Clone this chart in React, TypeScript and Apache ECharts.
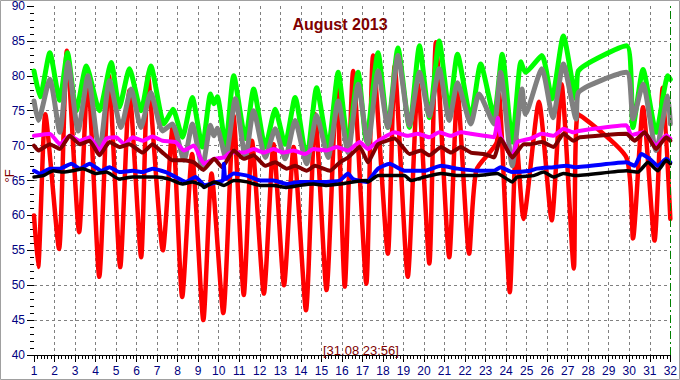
import React, { useEffect, useRef } from "react";
import * as echarts from "echarts";

// [day of month (fractional), °F]
const outdoor: number[][] = [
  [1.0, 60], [1.2, 52.6], [1.55, 74.5], [2.22, 55.2], [2.6, 83.6], [3.2, 57.6], [3.62, 80], [4.18, 51.2],
  [4.65, 80], [5.2, 52.6], [5.65, 77.9], [6.22, 54], [6.55, 80], [7.28, 55], [7.75, 72.6], [8.22, 48.3],
  [8.7, 68.8], [9.25, 45], [9.65, 66], [10.22, 46], [10.72, 74.3], [11.22, 48.6], [11.62, 70.7], [12.2, 48.8],
  [12.67, 70.2], [13.18, 50], [13.65, 69.8], [14.25, 46.4], [14.7, 74.5], [15.25, 49.3], [15.74, 78.8],
  [16.14, 49.8], [16.55, 80.7], [17.19, 50.2], [17.52, 82.9], [18.24, 54.5], [18.57, 81.4], [19.21, 51.2],
  [19.7, 78.8], [20.26, 53.1], [20.58, 84.8], [21.23, 54], [21.63, 77.9], [22.2, 54.5], [22.55, 66.5],
  [23.55, 70.5], [23.65, 77.4], [24.18, 49], [24.5, 71], [24.85, 59.5], [25.6, 76.3], [26.22, 59.3],
  [26.7, 78.8], [27.3, 52.4], [27.5, 74.5], [29.86, 68.3], [30.18, 56.7], [30.67, 75.5], [31.23, 56.4],
  [31.63, 78.3], [32.0, 59.5],
];
const greenSensor: number[][] = [
  [1.0, 80.7], [1.3, 77], [1.77, 83.3], [2.25, 76.5], [2.63, 83.3], [3.06, 75], [3.55, 81.4], [4.19, 75],
  [4.76, 81.9], [5.16, 75.5], [5.65, 81], [6.21, 75], [6.69, 81.4], [7.34, 73.1], [7.77, 75.2], [8.23, 71.2],
  [8.71, 76.9], [9.2, 69.8], [9.6, 77.4], [9.77, 76], [9.93, 77], [10.33, 70], [10.73, 80], [11.3, 71],
  [11.7, 78.1], [12.27, 69.8], [12.75, 75.2], [13.23, 70.2], [13.72, 76.9], [14.28, 68.1], [14.77, 78.3],
  [15.33, 69.8], [15.82, 80.5], [16.3, 70.2], [16.79, 80.5], [17.19, 70.7], [17.76, 83.3], [18.24, 72.6],
  [18.73, 84], [19.29, 72.6], [19.78, 84.3], [20.26, 74], [20.74, 85], [21.23, 75], [21.63, 83.1],
  [22.28, 74], [22.76, 81.7], [23.41, 74.3], [23.81, 83.1], [24.3, 70.5], [24.72, 82], [24.94, 80.5],
  [25.74, 82.9], [26.23, 76.7], [26.79, 85.7], [27.41, 76.7], [27.52, 80.7], [29.86, 84.3], [30.18, 72.6],
  [30.67, 80.9], [31.31, 71.9], [31.88, 80], [32.0, 79.5],
];
const graySensor: number[][] = [
  [1.0, 76.4], [1.21, 73.6], [1.77, 79.5], [2.26, 71.9], [2.66, 81.9], [3.15, 72.1], [3.63, 80], [4.19, 69],
  [4.68, 79.3], [5.24, 72.6], [5.73, 78.1], [6.21, 72.6], [6.69, 77.6], [7.26, 72.1], [7.74, 73.1],
  [8.31, 67.9], [8.71, 73.1], [9.2, 66.8], [9.6, 72.9], [9.77, 71.4], [9.93, 72.5], [10.33, 68.3],
  [10.81, 76.7], [11.3, 68.3], [11.7, 75], [12.27, 68.3], [12.75, 72.4], [13.23, 68.1], [13.72, 73.6],
  [14.28, 67.4], [14.77, 74.3], [15.33, 68.3], [15.82, 76.4], [16.3, 69], [16.79, 78.8], [17.27, 70.2],
  [17.76, 80.7], [18.24, 72.6], [18.73, 82.9], [19.29, 72.9], [19.78, 80.5], [20.26, 74.3], [20.74, 81],
  [21.23, 73.6], [21.63, 79], [22.28, 73.1], [22.68, 77.4], [23.41, 73.1], [23.73, 80.5], [24.3, 67.1],
  [24.78, 78.1], [24.94, 74.5], [25.74, 81], [26.28, 74], [26.79, 81.7], [27.41, 73.8], [27.52, 77.6],
  [29.86, 80.5], [30.18, 73.8], [30.67, 78.8], [31.31, 69.3], [31.88, 77.1], [32.0, 73.1],
];
const magentaSensor: number[][] = [
  [1.0, 71.4], [1.77, 71.7], [2.26, 70.2], [2.74, 71.4], [3.23, 70.7], [3.71, 71.2], [4.19, 69.3], [4.52, 71],
  [5.0, 71.2], [5.4, 70.2], [5.81, 71.2], [6.29, 70.7], [6.77, 71.3], [7.26, 70.7], [7.9, 70.5], [8.31, 69.3],
  [8.79, 70], [9.28, 67.4], [9.77, 68.1], [10.25, 68.3], [10.57, 69], [11.22, 69], [11.7, 69.5], [12.19, 69],
  [12.67, 69.5], [13.15, 69], [13.64, 69.3], [14.2, 68.8], [14.61, 69.5], [15.25, 69.3], [15.74, 69.8],
  [16.3, 69.3], [16.87, 70.5], [17.27, 69.5], [17.68, 70.5], [18.57, 71.9], [19.21, 71.4], [19.7, 71.7],
  [20.26, 71.2], [20.74, 71.9], [21.31, 71.4], [21.79, 71.9], [22.28, 71.7], [22.92, 71.4], [23.41, 71.2],
  [23.6, 74], [23.73, 71.4], [24.3, 68.3], [24.54, 70.5], [25.18, 71], [25.74, 71.7], [26.31, 71.4],
  [26.79, 72.4], [27.28, 71.9], [27.52, 72.1], [29.86, 72.9], [30.1, 71.5], [30.67, 71.9], [31.31, 70],
  [31.8, 71.5], [32.0, 71],
];
const maroonSensor: number[][] = [
  [1.0, 70], [1.21, 69.3], [1.77, 70.2], [2.26, 69.5], [2.74, 71.4], [3.23, 70.2], [3.71, 70.7], [4.19, 68.6],
  [4.68, 70.5], [5.16, 69.8], [5.65, 70.2], [6.29, 69], [6.77, 70.2], [7.26, 69], [7.74, 67.9], [8.31, 67.9],
  [8.79, 67.6], [9.25, 66.5], [9.77, 68.1], [10.17, 66.9], [10.73, 69.3], [11.22, 68.1], [11.7, 68.6],
  [12.27, 67.1], [12.75, 67.6], [13.31, 66.7], [13.72, 67.1], [14.28, 66.4], [14.69, 67.1], [15.42, 66.4],
  [15.9, 67.6], [16.3, 68.3], [16.87, 69.8], [17.27, 67.6], [17.76, 70.2], [18.57, 71], [19.29, 68.8],
  [19.86, 69.3], [20.26, 68.6], [20.83, 69.8], [21.31, 69], [21.79, 69.8], [22.28, 69], [22.92, 68.8],
  [23.41, 68.3], [23.73, 71], [24.3, 68.3], [24.86, 70.2], [25.18, 70.2], [25.74, 70.5], [26.31, 69.8],
  [26.79, 71.7], [27.28, 70.7], [27.6, 71.2], [29.86, 71.7], [30.26, 70.7], [30.75, 71.9], [31.31, 69.5],
  [31.8, 71.2], [32.0, 70.7],
];
const blueSensor: number[][] = [
  [1.0, 66.4], [1.29, 66], [1.77, 66.7], [2.26, 66.7], [2.82, 67.4], [3.23, 66.7], [3.71, 67.4], [4.27, 66.4],
  [4.68, 66.9], [5.16, 66.2], [5.81, 66.4], [6.29, 66.2], [6.77, 66.7], [7.42, 66.2], [7.9, 65.5], [8.39, 64.8],
  [8.87, 65.5], [9.19, 64.6], [9.28, 64.3], [9.93, 64.8], [10.2, 65], [10.25, 67.4], [10.33, 65.2],
  [10.73, 66], [11.38, 65.7], [12.02, 65], [12.67, 65], [13.31, 64.5], [13.96, 64.8], [14.61, 64.8],
  [15.25, 64.8], [15.9, 65], [16.3, 66], [16.54, 65.2], [17.19, 64.8], [17.76, 66.7], [18.32, 67.4],
  [19.05, 66.4], [20.02, 66.4], [20.83, 67.1], [21.63, 66.7], [22.6, 66.4], [23.41, 66.4], [23.73, 66.9],
  [24.3, 66.2], [25.18, 66.4], [25.5, 66.7], [26.31, 66.9], [26.95, 67.1], [27.36, 66.9], [29.86, 67.6],
  [30.26, 67.1], [30.58, 68.8], [30.99, 68.1], [31.39, 67.1], [31.8, 68.1], [32.0, 67.6],
];
const blackSensor: number[][] = [
  [1.0, 65.5], [1.45, 65.7], [1.94, 66.4], [2.42, 66.2], [2.9, 66.4], [3.39, 66.7], [4.03, 66], [4.52, 66.2],
  [5.16, 65.2], [5.81, 65.5], [6.45, 65.5], [6.94, 65.5], [7.58, 65.2], [8.23, 64.5], [8.71, 64.8],
  [9.19, 64.3], [9.28, 64], [9.77, 64.8], [10.25, 64.3], [10.73, 65], [11.38, 64.8], [12.02, 64.3],
  [12.67, 64.3], [13.31, 64], [13.96, 64.3], [14.61, 64.5], [15.25, 64.3], [15.9, 64.5], [16.54, 64.8],
  [17.19, 65], [17.27, 64.8], [17.76, 65.7], [18.4, 65.7], [19.05, 65.7], [19.37, 65], [20.02, 65.5],
  [20.83, 66], [21.63, 65.7], [22.6, 65.7], [23.57, 66], [24.3, 64.8], [24.54, 65.5], [25.34, 65.7],
  [25.82, 66.2], [26.31, 65.5], [26.79, 66], [27.36, 65.7], [29.86, 66.4], [30.42, 66.2], [30.91, 67.6],
  [31.39, 66.4], [31.8, 67.9], [32.0, 67.4],
];

const titleText = "August 2013";
const unitText = "°F";
const stampText = "[31.08 23:56]";
const nowDay = 32;

export default function App() {
  const ref = useRef<HTMLDivElement>(null);
  useEffect(() => {
    if (!ref.current) return;
    const chart = echarts.init(ref.current, undefined, { renderer: "svg" });
    const font = "Arial, 'Liberation Sans', sans-serif";
    const mk = (name: string, data: number[][], color: string, width: number, smooth: number) => ({
      name,
      type: "line",
      data,
      showSymbol: false,
      symbol: "none",
      smooth,
      lineStyle: { color, width, cap: "round", join: "round" },
      itemStyle: { color },
      silent: true,
    });
    const black: any = mk("black", blackSensor, "#000000", 3.5, 0.15);
    black.markLine = {
      silent: true,
      symbol: "none",
      label: { show: false },
      lineStyle: { color: "#008000", type: [8, 3, 2, 3], width: 1 },
      data: [{ xAxis: nowDay }],
    };
    chart.setOption({
      animation: false,
      backgroundColor: "#ffffff",
      title: {
        text: titleText,
        left: "center",
        top: 11,
        textStyle: { color: "#800000", fontWeight: "bold", fontSize: 16, fontFamily: font },
      },
      grid: { left: 34, right: 6, top: 5, bottom: 25 },
      xAxis: {
        type: "value",
        min: 1,
        max: 32,
        interval: 1,
        axisLine: { show: true, lineStyle: { color: "#000000", width: 1 } },
        axisTick: { show: true, length: 7, lineStyle: { color: "#000000" } },
        minorTick: { show: true, splitNumber: 6, length: 4, lineStyle: { color: "#000000" } },
        axisLabel: { color: "#000080", fontSize: 12, fontFamily: font, margin: 10 },
        splitLine: {
          show: true,
          showMinLine: false,
          showMaxLine: false,
          lineStyle: { color: "#808080", type: [3, 3], width: 1 },
        },
      },
      yAxis: {
        type: "value",
        min: 40,
        max: 90,
        interval: 5,
        axisLine: { show: false },
        axisTick: { show: true, length: 7, lineStyle: { color: "#000000" } },
        minorTick: { show: true, splitNumber: 5, length: 4, lineStyle: { color: "#000000" } },
        axisLabel: { color: "#000080", fontSize: 12, fontFamily: font, margin: 9 },
        splitLine: {
          show: true,
          showMinLine: false,
          showMaxLine: false,
          lineStyle: { color: "#808080", type: [3, 3], width: 1 },
        },
      },
      series: [
        mk("red", outdoor, "#ff0000", 4.5, 0.2),
        mk("green", greenSensor, "#00ff00", 5, 0.2),
        mk("gray", graySensor, "#808080", 5, 0.2),
        mk("magenta", magentaSensor, "#ff00ff", 4, 0.15),
        mk("maroon", maroonSensor, "#800000", 4, 0.15),
        mk("blue", blueSensor, "#0000ff", 4, 0.15),
        black,
      ],
      graphic: [
        {
          type: "rect",
          silent: true,
          z: 100,
          shape: { x: 0.5, y: 0.5, width: 679, height: 379 },
          style: { fill: "none", stroke: "#a0a0a0", lineWidth: 1 },
        },
        {
          type: "text",
          silent: true,
          z: 100,
          x: 9,
          y: 176,
          rotation: Math.PI / 2,
          style: {
            text: unitText,
            fill: "#800000",
            font: `13px ${font}`,
            align: "center",
            verticalAlign: "middle",
          },
        },
        {
          type: "text",
          silent: true,
          z: 100,
          x: 323,
          y: 344,
          style: { text: stampText, fill: "#800000", font: `13px ${font}` },
        },
      ],
    });
    return () => chart.dispose();
  }, []);
  return (
    <div
      ref={ref}
      style={{ position: "fixed", left: 0, top: 0, width: 680, height: 380 }}
    />
  );
}
